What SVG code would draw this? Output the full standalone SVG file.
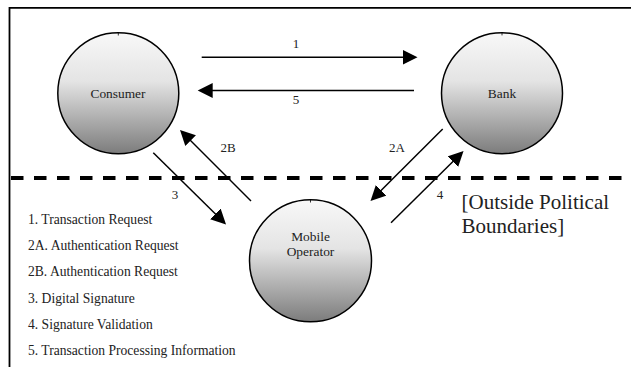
<svg xmlns="http://www.w3.org/2000/svg" width="631" height="367" viewBox="0 0 631 367">
  <defs>
    <linearGradient id="ball" x1="0" y1="0" x2="0" y2="1">
      <stop offset="0" stop-color="#f8f8f8"/>
      <stop offset="0.4" stop-color="#e4e4e4"/>
      <stop offset="1" stop-color="#7c7c7c"/>
    </linearGradient>
    <marker id="head" markerUnits="userSpaceOnUse" markerWidth="16" markerHeight="16" refX="3" refY="7.5" orient="auto">
      <path d="M0,0 L15,7.5 L0,15 Z" fill="#000"/>
    </marker>
  </defs>
  <style>
    .frame { fill: none; stroke: #000; stroke-width: 1.8; }
    .boundary { fill: none; stroke: #000; stroke-width: 3.8; stroke-dasharray: 12.5 10.5; }
    .node circle { fill: url(#ball); stroke: #000; stroke-width: 1.5; }
    .node .tick { stroke: #000; stroke-width: 0.8; }
    .node text { font-size: 13.4px; fill: #222; text-anchor: middle; }
    .flow { fill: none; stroke: #000; stroke-width: 1.5; marker-end: url(#head); }
    .flowlabel { font-size: 13px; fill: #222; text-anchor: middle; }
    .legend { font-size: 13.6px; fill: #222; }
    .region { font-size: 21px; fill: #222; }
  </style>

  <rect width="631" height="367" fill="#fff"/>

  <!-- page frame: top and left edges -->
  <path class="frame" d="M9.5,367 V7.8 H631"/>

  <!-- political boundary -->
  <line class="boundary" x1="11" y1="178" x2="631" y2="178"/>

  <g font-family="'Liberation Serif', 'Times New Roman', serif">
    <g id="consumer" class="node">
      <circle cx="118.3" cy="93.3" r="60.5"/>
      <line class="tick" x1="118.3" y1="32.8" x2="118.3" y2="35.5"/>
      <text x="118" y="97.5">Consumer</text>
    </g>

    <g id="bank" class="node">
      <circle cx="502" cy="93.2" r="60.5"/>
      <line class="tick" x1="502" y1="32.7" x2="502" y2="35.4"/>
      <text x="502" y="97.5">Bank</text>
    </g>

    <g id="mobile-operator" class="node">
      <circle cx="310.5" cy="260.8" r="61"/>
      <line class="tick" x1="310.5" y1="199.8" x2="310.5" y2="202.5"/>
      <text x="310.5" y="241">Mobile</text>
      <text x="310.5" y="256">Operator</text>
    </g>

    <g id="connectors">
      <line class="flow" x1="201.7" y1="57.3" x2="405.5" y2="57.3"/>
      <text class="flowlabel" x="296" y="48">1</text>

      <line class="flow" x1="414" y1="90.5" x2="209.7" y2="90.5"/>
      <text class="flowlabel" x="296" y="104">5</text>

      <line class="flow" x1="251" y1="201" x2="188.5" y2="138.5"/>
      <text class="flowlabel" x="228" y="152">2B</text>

      <line class="flow" x1="153.3" y1="152.7" x2="217.5" y2="216"/>
      <text class="flowlabel" x="175" y="199">3</text>

      <line class="flow" x1="442.7" y1="129" x2="379" y2="192.5"/>
      <text class="flowlabel" x="397" y="152">2A</text>

      <line class="flow" x1="391" y1="222.7" x2="455" y2="159.5"/>
      <text class="flowlabel" x="440" y="199" font-size="11.5">4</text>
    </g>

    <g id="legend" class="legend">
      <text x="28" y="224">1. Transaction Request</text>
      <text x="28" y="250.2">2A. Authentication Request</text>
      <text x="28" y="276.4">2B. Authentication Request</text>
      <text x="28" y="302.6">3. Digital Signature</text>
      <text x="28" y="328.8">4. Signature Validation</text>
      <text x="28" y="355">5. Transaction Processing Information</text>
    </g>

    <g id="region-note" class="region">
      <text x="461.5" y="208.5">[Outside Political</text>
      <text x="461.5" y="232.8">Boundaries]</text>
    </g>
  </g>
</svg>
